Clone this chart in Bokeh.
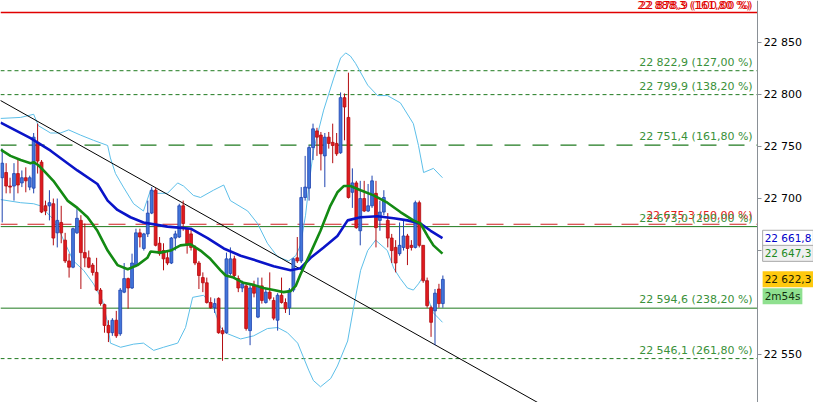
from bokeh.plotting import figure
from bokeh.models import ColumnDataSource, Label, FixedTicker, Range1d
from bokeh.embed import file_html
from bokeh.resources import INLINE

# ---- candle data (index = bar number) ----
opens = [22720,22725,22712,22712,22724,22715,22720,22711,22710,22754,
         22735,22693,22693,22695,22667,22677,22660,22640,22634,22667,
         22679,22648,22643,22636,22629,22612,22598,22578,22571,22583,
         22570,22610,22623,22614,22636,22667,22652,22666,22686,22708,
         22657,22650,22643,22638,22662,22663,22693,22671,22666,22653,
         22638,22624,22619,22600,22595,22604,22573,22571,22628,22642,
         22623,22614,22616,22573,22616,22586,22616,22600,22610,22602,
         22583,22607,22600,22595,22612,22643,22640,22701,22710,22749,
         22765,22761,22741,22759,22754,22753,22744,22797,22778,22706,
         22715,22669,22700,22688,22693,22705,22679,22687,22679,22662,
         22653,22647,22653,22664,22655,22653,22696,22655,22621,22595,
         22592,22613,22599]
closes = [22734,22712,22711,22724,22713,22720,22717,22720,22759,22736,
          22687,22688,22696,22662,22679,22667,22640,22634,22671,22681,
          22648,22643,22634,22629,22612,22599,22578,22571,22583,22568,
          22612,22623,22614,22638,22667,22663,22666,22686,22708,22655,
          22647,22642,22638,22662,22666,22693,22676,22655,22653,22638,
          22626,22619,22600,22595,22599,22571,22570,22642,22642,22626,
          22614,22618,22575,22614,22609,22616,22602,22610,22604,22585,
          22607,22600,22594,22612,22642,22640,22701,22711,22749,22767,
          22759,22743,22759,22753,22751,22743,22797,22788,22701,22715,
          22672,22700,22688,22693,22717,22672,22687,22701,22662,22650,
          22638,22655,22664,22652,22653,22696,22655,22621,22597,22581,
          22609,22599,22622.3]
highs = [22748,22734,22720,22734,22738,22727,22730,22722,22763,22772,
         22737,22698,22708,22700,22700,22693,22667,22647,22672,22690,
         22684,22676,22650,22638,22643,22614,22599,22583,22585,22592,
         22614,22638,22624,22647,22671,22671,22667,22698,22711,22710,
         22663,22657,22650,22663,22669,22695,22698,22672,22671,22655,
         22640,22629,22624,22605,22604,22605,22576,22648,22653,22645,
         22626,22621,22618,22618,22621,22624,22624,22614,22629,22605,
         22609,22624,22604,22614,22643,22663,22711,22741,22751,22772,
         22768,22764,22763,22764,22772,22763,22802,22801,22821,22729,
         22717,22717,22717,22714,22722,22717,22698,22708,22686,22666,
         22660,22677,22679,22666,22660,22698,22698,22655,22624,22597,
         22613,22618,22626]
lows = [22677,22705,22705,22698,22705,22711,22706,22708,22705,22724,
        22686,22684,22679,22655,22653,22657,22638,22624,22633,22666,
        22613,22634,22633,22626,22611,22597,22571,22562,22568,22566,
        22568,22609,22594,22613,22634,22653,22650,22663,22685,22654,
        22645,22631,22636,22637,22650,22662,22669,22647,22650,22636,
        22613,22610,22599,22594,22590,22570,22544,22570,22626,22623,
        22610,22610,22573,22559,22605,22585,22599,22599,22602,22583,
        22573,22599,22590,22588,22610,22638,22638,22698,22698,22737,
        22741,22727,22711,22748,22734,22741,22743,22756,22700,22691,
        22671,22655,22687,22687,22691,22653,22669,22684,22653,22638,
        22629,22645,22650,22636,22650,22652,22653,22619,22595,22567,
        22559,22595,22595]

# ---- indicators (bar index, price) ----
blue_x = [-0.4,7.2,12.3,16.6,19.1,24.2,26.8,29.3,32.6,35.9,42.0,47.9,52.2,56.3,60.6,64.9,
          69.0,73.3,75.8,78.4,81.7,85.2,87.8,91.1,95.4,99.5,103.0,106.3,108.9,111.9]
blue_y = [22773,22758,22746,22734,22727,22714,22698,22689,22682,22677,22673,22671,22662,22652,22645,22640,
          22635,22631,22633,22643,22653,22664,22679,22682,22683,22681,22679,22676,22669,22662]

green_x = [-0.4,2.1,4.7,7.2,8.0,9.2,10.5,13.0,16.6,19.1,21.7,24.2,26.8,29.3,31.9,34.4,
           36.9,37.7,40.2,42.8,45.3,47.9,50.4,52.9,55.5,56.8,58.8,61.3,63.9,66.4,
           69.0,71.5,73.3,74.6,75.8,78.4,80.9,83.4,85.2,86.8,88.5,91.1,94.4,97.9,101.2,
           104.5,106.3,108.1,109.6,111.9]
green_y = [22747,22741,22737,22734,22735,22732,22727,22717,22698,22691,22682,22669,22650,22636,22632,22636,
           22643,22649,22648,22650,22655,22656,22650,22642,22631,22626,22624,22619,22617,22614,
           22612,22610,22611,22616,22627,22648,22669,22693,22706,22712,22712,22708,22703,22696,22687,
           22679,22676,22664,22655,22647]

upper_x = [-0.4,4.7,8.0,9.2,12.3,14.8,16.9,19.9,23.2,26.8,27.5,28.8,30.8,33.4,35.9,37.7,39.5,
           42.0,44.6,46.1,48.6,50.4,53.7,56.3,58.0,62.4,64.9,67.4,70.0,72.8,74.6,75.8,77.1,
           77.9,79.1,81.7,84.2,86.0,87.3,88.5,89.8,92.9,95.4,97.9,101.2,104.5,105.8,107.1,
           109.6,111.9]
upper_y = [22777,22778,22781,22770,22763,22763,22766,22761,22756,22751,22739,22724,22711,22695,22688,22708,22705,
           22705,22715,22712,22703,22701,22708,22713,22698,22688,22676,22657,22644,22640,22645,22655,22684,
           22711,22746,22785,22815,22835,22840,22837,22830,22809,22799,22799,22792,22772,22751,22725,
           22729,22720]

lower_x = [-0.4,4.7,8.0,9.7,13.5,15.6,18.1,20.7,23.2,25.5,26.8,27.5,30.1,33.4,35.9,38.5,41.0,
           44.6,46.6,48.4,51.2,53.7,55.5,57.3,60.6,63.9,67.4,70.0,72.5,75.1,76.6,77.9,79.1,
           80.9,83.5,85.2,87.8,89.3,91.1,92.9,94.9,97.9,99.5,101.2,103.0,104.5,105.8,106.8,
           107.6,108.4,109.6,110.9,111.9]
lower_y = [22699,22696,22695,22693,22678,22660,22640,22631,22618,22602,22580,22561,22557,22560,22561,22554,22557,
           22561,22576,22605,22607,22595,22576,22570,22565,22568,22575,22576,22571,22561,22547,22535,22525,
           22519,22527,22539,22563,22595,22631,22650,22660,22650,22633,22623,22614,22612,22618,22624,
           22621,22602,22590,22585,22581]

trend_x = [-0.5, 140.0]
trend_y = [22794.4, 22495.6]

# ---- horizontal levels ----
level_vals = [22878.9, 22822.9, 22799.9, 22751.4, 22675.3, 22673.0, 22594.6, 22546.1]
level_pcts = ["100,00", "127,00", "138,20", "161,80", "50,00", "200,00", "238,20", "261,80"]
extra_top_val = 22888.3
extra_top_pct = "161,80"

ma_blue_last = 22661.8
ma_green_last = 22647.3
last_price = 22622.3
timer_text = "2m54s"

# 22 600 is hidden behind the timer box in the reference
axis_ticks = [22500, 22550, 22650, 22700, 22750, 22800, 22850]

# ---- styles ----
level_styles = [
    ("#e00000", "solid", 1.5, "#e00000"),
    ("#1f7a1f", "4 3", 1, "#3a913a"),
    ("#1f7a1f", "4 3", 1, "#3a913a"),
    ("#1f7a1f", "16 12", 1.2, "#3a913a"),
    ("#d02020", "17 10", 1.2, "#e02020"),
    ("#1f7a1f", "solid", 1, "#3a913a"),
    ("#1f7a1f", "solid", 1, "#3a913a"),
    ("#1f7a1f", "4 3", 1, "#3a913a"),
]


def fmt(v):
    s = f"{v:,.1f}"
    return s.replace(",", " ").replace(".", ",")


X0, X1 = -0.43, 206.2     # full visible width
XAX = 192.0               # where the price axis sits
Y0, Y1 = 22503.9, 22890.4

p = figure(width=813, height=402, output_backend="svg", toolbar_location=None,
           x_range=Range1d(X0, X1), y_range=Range1d(Y0, Y1),
           y_axis_location="right", x_axis_location=None,
           min_border_left=0, min_border_top=0, min_border_bottom=0, min_border_right=0)
p.outline_line_color = None
p.xgrid.visible = False
p.ygrid.visible = False
p.background_fill_color = "white"
p.border_fill_color = "white"

ax = p.yaxis[0]
ax.fixed_location = XAX
ax.ticker = FixedTicker(ticks=axis_ticks)
ax.major_label_overrides = {t: fmt(t)[:-2] for t in axis_ticks}
ax.axis_line_color = "#8a9096"
ax.major_tick_line_color = "#8a9096"
ax.major_tick_out = 4
ax.major_tick_in = 0
ax.minor_tick_line_color = None
ax.major_label_text_font = "DejaVu Sans"
ax.major_label_text_font_size = "11px"
ax.major_label_text_color = "#000000"
ax.major_label_standoff = 2

# level lines (stop at the price axis)
for v, (lc, dash, lw, tc) in zip(level_vals, level_styles):
    p.line([X0, XAX], [v, v], line_color=lc, line_dash=dash, line_width=lw)

# bollinger bands
p.line(upper_x, upper_y, line_color="#5dbfe9", line_width=1)
p.line(lower_x, lower_y, line_color="#5dbfe9", line_width=1)

# trend line
p.line(trend_x, trend_y, line_color="black", line_width=1)

# candles
idx = list(range(len(opens)))
up = [c >= o for o, c in zip(opens, closes)]
src = ColumnDataSource(dict(
    x=idx,
    top=[max(o, c) for o, c in zip(opens, closes)],
    bottom=[min(o, c) for o, c in zip(opens, closes)],
    high=highs, low=lows,
    fill=["#4275da" if u else "#e01a1f" for u in up],
    edge=["#1f44b0" if u else "#b30c10" for u in up],
))
p.segment(x0="x", y0="high", x1="x", y1="low", line_color="edge", line_width=1, source=src)
p.vbar(x="x", width=0.72, top="top", bottom="bottom", fill_color="fill",
       line_color="edge", line_width=0.8, source=src)

# moving averages
p.line(blue_x, blue_y, line_color="#0a14c8", line_width=2.6)
p.line(green_x, green_y, line_color="#138a13", line_width=2.6)

# level labels
p.add_layout(Label(x=XAX, y=level_vals[0], text=f"{fmt(extra_top_val)} ({extra_top_pct} %)",
                   text_align="right", text_baseline="bottom", x_offset=-7, y_offset=0,
                   text_font="DejaVu Sans", text_font_size="11px", text_color="#e00000"))
for i, (v, pct, (lc, dash, lw, tc)) in enumerate(zip(level_vals, level_pcts, level_styles)):
    p.add_layout(Label(x=XAX, y=v, text=f"{fmt(v)} ({pct} %)", text_align="right",
                       text_baseline="bottom", x_offset=-5, y_offset=0 if i == 0 else 2,
                       text_font="DejaVu Sans", text_font_size="11px", text_color=tc))

# price boxes on the axis
boxes = [
    (ma_blue_last, fmt(ma_blue_last), "#0000c8", "white", 0),
    (ma_green_last, fmt(ma_green_last), "#1e8a1e", "#f0f0f0", 0),
    (last_price, fmt(last_price), "#202000", "#ffc90e", 0),
    (last_price, timer_text, "#103010", "#8fe08f", -17),
]
for v, t, tc, bg, dy in boxes:
    p.add_layout(Label(x=XAX, y=v, text=t, text_align="left", text_baseline="middle",
                       x_offset=5, y_offset=dy, text_font="DejaVu Sans", text_font_size="10.5px",
                       text_color=tc, background_fill_color=bg,
                       border_line_color="#a8a8a8" if bg in ("white", "#f0f0f0") else None,
                       padding=2))

open("out.html", "w").write(file_html(p, INLINE))
